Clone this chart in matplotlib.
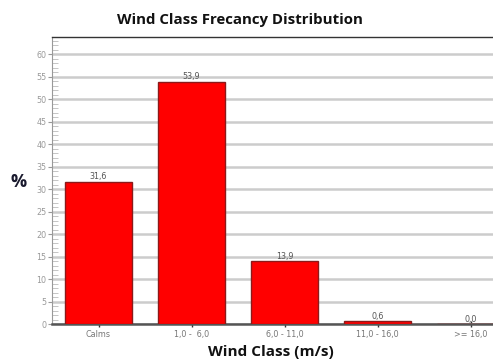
import matplotlib
matplotlib.use("Agg")
import matplotlib.pyplot as plt
from matplotlib.ticker import MultipleLocator

categories = ["Calms", "1,0 -  6,0", "6,0 - 11,0", "11,0 - 16,0", ">= 16,0"]
values = [31.6, 53.9, 13.9, 0.6, 0.0]
value_labels = ["31,6", "53,9", "13,9", "0,6", "0,0"]

fig = plt.figure(figsize=(4.93, 3.62), dpi=100)
ax = fig.add_axes([52 / 493, 1 - 324 / 362, 465 / 493, 287 / 362])

x = list(range(len(categories)))
ax.bar(x, values, width=0.72, color="#ff0000", edgecolor="#8b1a1a", linewidth=1.0, zorder=3)

for xi, v, lab in zip(x, values, value_labels):
    ax.text(xi, v + 0.1, lab, ha="center", va="bottom", fontsize=5.8, color="#555555", zorder=4)

ax.set_xlim(-0.5, 4.5)
ax.set_ylim(0, 63.8)
ax.set_xticks(x)
ax.set_xticklabels(categories, fontsize=5.8, color="#777777")
ax.yaxis.set_major_locator(MultipleLocator(5))
ax.yaxis.set_minor_locator(MultipleLocator(1))
ax.tick_params(axis="y", which="major", labelsize=5.8, labelcolor="#999999",
               color="#999999", length=3, width=0.8, direction="out", pad=1)
ax.tick_params(axis="y", which="minor", color="#bbbbbb", length=4, width=0.6, direction="in")
ax.tick_params(axis="x", which="major", color="#333333", length=4, width=1.0,
               direction="inout", pad=2)

ax.grid(axis="y", which="major", color="#cccccc", linewidth=1.8, zorder=0)
ax.set_axisbelow(True)

ax.spines["left"].set_color("#999999")
ax.spines["left"].set_linewidth(0.8)
ax.spines["bottom"].set_color("#555555")
ax.spines["bottom"].set_linewidth(1.8)
ax.spines["top"].set_color("#333333")
ax.spines["top"].set_linewidth(1.0)
ax.spines["right"].set_visible(False)

fig.text(240 / 493, 1 - 20 / 362, "Wind Class Frecancy Distribution", ha="center", va="center",
         fontsize=10.8, fontweight="bold", family="Open Sans", color="#111111")
fig.text(271 / 493, 1 - 352 / 362, "Wind Class (m/s)", ha="center", va="center",
         fontsize=11, fontweight="bold", family="Open Sans", color="#111111")
fig.text(19 / 493, 1 - 182 / 362, "%", ha="center", va="center",
         fontsize=13, fontweight="bold", family="Open Sans", color="#1a1a2e")

fig.savefig("out.png", dpi=100)
